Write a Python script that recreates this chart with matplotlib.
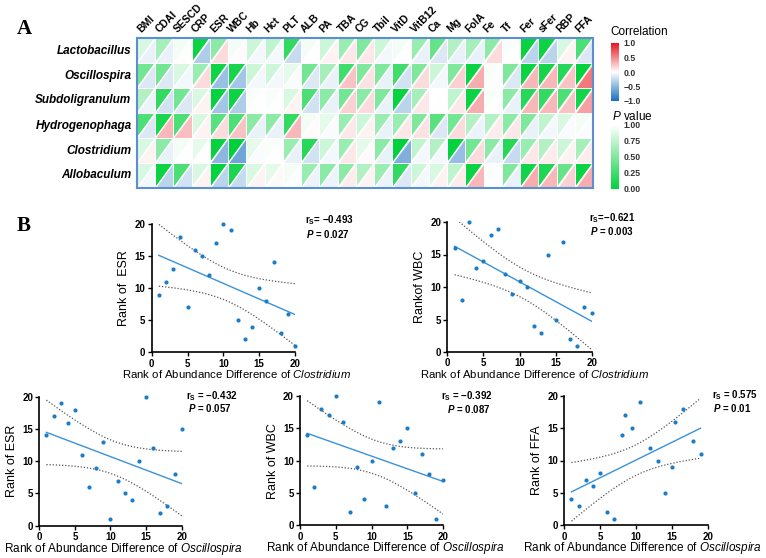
import numpy as np
import matplotlib
matplotlib.use("Agg")
import matplotlib.pyplot as plt
from matplotlib.collections import PolyCollection
from matplotlib.colors import LinearSegmentedColormap, Normalize
from matplotlib.cm import ScalarMappable

plt.rcParams['font.family'] = ['Liberation Sans', 'DejaVu Sans']
plt.rcParams['mathtext.fontset'] = 'custom'
plt.rcParams['mathtext.rm'] = 'Liberation Sans'
plt.rcParams['mathtext.it'] = 'Liberation Sans:italic'
plt.rcParams['mathtext.bf'] = 'Liberation Sans:bold'
plt.rcParams['mathtext.bfit'] = 'Liberation Sans:italic:bold'

# ---- panel A data ----
genera = ['Lactobacillus', 'Oscillospira', 'Subdoligranulum',
          'Hydrogenophaga', 'Clostridium', 'Allobaculum']
indices = ['BMI', 'CDAI', 'SESCD', 'CRP', 'ESR', 'WBC', 'Hb', 'Hct', 'PLT',
           'ALB', 'PA', 'TBA', 'CG', 'Tbil', 'VitD', 'VitB12', 'Ca', 'Mg',
           'FolA', 'Fe', 'Tf', 'Fer', 'sFer', 'RBP', 'FFA']

p_lacto = [0.85, 0.65, 0.95, 0.05, 0.55, 0.95, 0.8, 0.75, 0.2, 0.95, 0.8, 0.6, 0.5,
           0.8, 0.95, 0.6, 0.4, 0.7, 0.65, 0.55, 0.98, 0.03, 0.05, 0.85, 0.3]
p_oscil = [0.45, 0.45, 0.85, 0.6, 0.057, 0.087, 0.8, 0.8, 0.9, 0.45, 0.65, 0.25, 0.5,
           0.5, 0.25, 0.5, 0.8, 0.5, 0.05, 0.98, 0.5, 0.05, 0.08, 0.15, 0.01]
p_subdo = [0.7, 0.2, 0.45, 0.85, 0.02, 0.05, 0.98, 0.98, 0.85, 0.3, 0.55, 0.45, 0.55,
           0.5, 0.03, 0.65, 1.0, 0.75, 0.05, 0.97, 0.55, 0.15, 0.2, 0.3, 0.08]
p_hydro = [0.3, 0.1, 0.3, 0.85, 0.35, 0.3, 0.55, 0.55, 0.2, 0.95, 0.9, 0.6, 0.8,
           0.6, 0.6, 0.5, 0.35, 0.45, 0.7, 0.7, 0.55, 0.5, 0.75, 0.85, 0.95]
p_clost = [0.85, 0.55, 0.95, 0.9, 0.027, 0.003, 0.9, 0.98, 0.6, 0.15, 0.8, 0.6, 0.9,
           0.55, 0.01, 0.75, 0.7, 0.02, 0.45, 0.55, 0.15, 0.6, 0.7, 0.8, 0.65]
p_allob = [0.85, 0.05, 0.3, 0.85, 0.02, 0.1, 0.85, 0.9, 0.95, 0.6, 0.55, 0.55, 0.7,
           0.6, 0.2, 0.8, 0.85, 0.75, 0.05, 0.98, 0.5, 0.07, 0.12, 0.4, 0.05]

r_lacto = [-0.1, -0.1, 0, -0.35, 0.15, 0.02, -0.05, -0.05, -0.25, 0, 0.05, 0.1, 0.1,
           -0.05, 0, -0.1, -0.15, -0.1, -0.1, 0.15, 0, -0.3, -0.3, 0.05, -0.15]
r_oscil = [-0.15, -0.15, -0.05, 0.15, -0.432, -0.392, -0.05, -0.05, -0.03, -0.15, -0.1,
           0.25, 0.12, -0.1, -0.2, 0.15, -0.05, 0.2, 0.35, 0, -0.15, 0.3, 0.3, 0.25, 0.575]
r_subdo = [-0.08, -0.2, -0.15, 0.05, -0.4, -0.35, 0, 0, 0.05, -0.2, -0.1, 0.2, 0.15,
           -0.1, -0.3, 0.1, 0, 0.1, 0.35, 0, -0.1, 0.3, 0.3, 0.25, 0.4]
r_hydro = [-0.15, 0.3, 0.28, 0.05, 0.15, 0.25, -0.1, -0.1, 0.3, 0.02, -0.03, 0.1, 0.05,
           -0.1, 0.1, 0.12, -0.15, 0.15, -0.08, 0.08, 0.1, -0.1, -0.05, -0.03, -0.02]
r_clost = [0.05, -0.1, 0, 0, -0.493, -0.621, -0.03, 0, -0.1, -0.2, -0.05, 0.1, 0.02,
           -0.1, -0.55, -0.05, -0.05, -0.45, 0.15, -0.1, -0.25, 0.1, 0.08, 0.05, 0.08]
r_allob = [-0.05, -0.3, -0.2, 0.05, -0.3, -0.25, 0.05, 0.03, 0, -0.08, -0.08, 0.08, 0.05,
           -0.08, -0.15, -0.05, 0.05, 0.08, 0.3, 0, -0.1, 0.35, 0.3, 0.2, 0.35]

# ---- panel B data (ranks) ----
rank_x = [1, 2, 3, 4, 5, 6, 7, 8, 9, 10, 11, 12, 13, 14, 15, 16, 17, 18, 19, 20]
clost_esr = [9, 11, 13, 18, 7, 16, 15, 12, 17, 20, 19, 5, 2, 4, 10, 8, 14, 3, 6, 1]
clost_wbc = [16, 8, 20, 13, 14, 18, 19, 12, 9, 11, 10, 4, 3, 15, 5, 17, 2, 1, 7, 6]
oscil_esr = [14, 17, 19, 16, 18, 11, 6, 9, 13, 1, 7, 5, 4, 10, 20, 12, 2, 3, 8, 15]
oscil_wbc = [14, 6, 18, 17, 20, 16, 2, 9, 4, 10, 19, 3, 12, 13, 15, 5, 11, 8, 1, 7]
ffa_x = [1, 2, 3, 4, 5, 6, 7, 8, 8.5, 9.5, 10.5, 12, 13, 14, 15, 15.5, 16.5, 18, 19]
oscil_ffa = [4, 3, 7, 6, 8, 2, 1, 14, 17, 15, 19, 12, 10, 5, 9, 16, 18, 13, 11]

W, H = 766, 558
fig = plt.figure(figsize=(W / 100, H / 100), dpi=100)


def px_axes(x0, y0, x1, y1):
    return fig.add_axes([x0 / W, 1 - y1 / H, (x1 - x0) / W, (y1 - y0) / H])


def fig_text(x, y, s, **kw):
    fig.text(x / W, 1 - y / H, s, **kw)


green = LinearSegmentedColormap.from_list('pval', ['#00d13b', '#ffffff'])
redblue = LinearSegmentedColormap.from_list('corr', ['#1a6fc0', '#ffffff', '#e8141c'])
p_norm = Normalize(0, 1)
r_norm = Normalize(-1, 1)

# ---- heatmap ----
pvals = np.array([p_lacto, p_oscil, p_subdo, p_hydro, p_clost, p_allob])
rvals = np.array([r_lacto, r_oscil, r_subdo, r_hydro, r_clost, r_allob])
nr, nc = pvals.shape

ax = px_axes(137, 38, 593, 188)
upper, lower = [], []
for i in range(nr):
    for j in range(nc):
        upper.append([(j, i), (j + 1, i), (j, i + 1)])
        lower.append([(j + 1, i), (j + 1, i + 1), (j, i + 1)])
ax.add_collection(PolyCollection(upper, array=pvals.ravel(), cmap=green, norm=p_norm,
                                 edgecolors='white', linewidths=0.7))
ax.add_collection(PolyCollection(lower, array=rvals.ravel(), cmap=redblue, norm=r_norm,
                                 edgecolors='white', linewidths=0.7))
ax.set_xlim(0, nc)
ax.set_ylim(nr, 0)
ax.set_xticks([])
ax.set_yticks([])
for sp in ax.spines.values():
    sp.set_color('#5b8fd0')
    sp.set_linewidth(1.5)
for j, name in enumerate(indices):
    ax.text(j + 0.3, -0.15, name, rotation=45, rotation_mode='anchor',
            ha='left', va='bottom', fontsize=7.5, fontweight='bold')
for i, name in enumerate(genera):
    ax.text(-0.3, i + 0.5, name, ha='right', va='center', fontsize=8.5,
            fontweight='bold', fontstyle='italic')

# legends
fig_text(610, 32, 'Correlation', fontsize=8.5, va='center', ha='left')
cax = px_axes(611, 43, 619, 101)
cb = fig.colorbar(ScalarMappable(norm=r_norm, cmap=redblue), cax=cax,
                  ticks=[-1, -0.5, 0, 0.5, 1])
cb.ax.set_yticklabels(['\u22121.0', '\u22120.5', '0.0', '0.5', '1.0'])
cb.outline.set_visible(False)
cax.tick_params(length=0, pad=3, labelsize=6.3, labelcolor='#333333')
for t in cax.get_yticklabels():
    t.set_fontweight('bold')

fig_text(612, 116, '$\\mathit{P}$ value', fontsize=8.5, va='center', ha='left')
pax = px_axes(611, 125, 619, 189)
cb2 = fig.colorbar(ScalarMappable(norm=p_norm, cmap=green), cax=pax,
                   ticks=[0, 0.25, 0.5, 0.75, 1])
cb2.ax.set_yticklabels(['0.00', '0.25', '0.50', '0.75', '1.00'])
cb2.outline.set_visible(False)
pax.tick_params(length=0, pad=3, labelsize=6.3, labelcolor='#333333')
for t in pax.get_yticklabels():
    t.set_fontweight('bold')

fig_text(17, 34, 'A', fontsize=15, fontweight='bold', family='Liberation Serif', va='baseline')
fig_text(17, 231, 'B', fontsize=15, fontweight='bold', family='Liberation Serif', va='baseline')

# ---- scatter panels ----
t_crit = {17: 2.110, 18: 2.101}


def scatter_panel(box, x, y, ylab, taxon, rs_txt, p_txt, rs_xy, p_xy,
                  xlab_pos, xlab_size):
    ax = px_axes(*box)
    x = np.asarray(x, float)
    y = np.asarray(y, float)
    n = len(x)
    slope, icpt = np.polyfit(x, y, 1)
    xs = np.linspace(x.min(), x.max(), 100)
    yhat = icpt + slope * xs
    resid = y - (icpt + slope * x)
    s = np.sqrt(np.sum(resid ** 2) / (n - 2))
    sxx = np.sum((x - x.mean()) ** 2)
    ci = t_crit[n - 2] * s * np.sqrt(1 / n + (xs - x.mean()) ** 2 / sxx)
    ax.plot(xs, yhat, color='#3a92d8', lw=1)
    ax.plot(xs, yhat + ci, ls=(0, (1, 1.5)), color='#555555', lw=0.9)
    ax.plot(xs, yhat - ci, ls=(0, (1, 1.5)), color='#555555', lw=0.9)
    ax.scatter(x, y, s=9, color='#1b7dc7', clip_on=False, zorder=3, linewidths=0)
    ax.set_xlim(0, 20)
    ax.set_ylim(0, 20)
    ax.set_xticks([0, 5, 10, 15, 20])
    ax.set_yticks([0, 5, 10, 15, 20])
    ax.spines['top'].set_visible(False)
    ax.spines['right'].set_visible(False)
    for sp in ('left', 'bottom'):
        ax.spines[sp].set_linewidth(1.2)
    ax.tick_params(direction='out', length=3, width=1, labelsize=7, pad=1.5)
    for t in ax.get_xticklabels() + ax.get_yticklabels():
        t.set_fontweight('bold')
    ax.set_ylabel(ylab, fontsize=9, labelpad=3)
    ax.set_xlabel('Rank of Abundance Difference of $\\mathit{' + taxon + '}$',
                  fontsize=xlab_size)
    ax.xaxis.set_label_coords(*xlab_pos)
    fig_text(rs_xy[0], rs_xy[1], rs_txt, fontsize=7, fontweight='bold', va='center')
    fig_text(p_xy[0], p_xy[1], p_txt, fontsize=7, fontweight='bold', va='center')


scatter_panel((151.7, 224, 295, 352.3), rank_x, clost_esr, 'Rank of  ESR', 'Clostridium',
              '$\\mathbf{r}_{\\mathbf{S}}$= \u22120.493', '$\\mathbfit{P}$ = 0.027',
              (305, 220), (306, 234), (0.595, -0.12), 8.2)
scatter_panel((447.3, 222, 591.7, 352), rank_x, clost_wbc, 'Rankof WBC', 'Clostridium',
              '$\\mathbf{r}_{\\mathbf{S}}$=\u22120.621', '$\\mathbfit{P}$ = 0.003',
              (589, 218), (590, 231), (0.607, -0.12), 8.2)
scatter_panel((39.3, 396.7, 181.7, 525.7), rank_x, oscil_esr, 'Rank of ESR', 'Oscillospira',
              '$\\mathbf{r}_{\\mathbf{S}}$ = \u22120.432', '$\\mathbfit{P}$ = 0.057',
              (186, 396), (188, 408), (0.59, -0.115), 8.5)
scatter_panel((300, 396, 443.3, 525.3), rank_x, oscil_wbc, 'Rank of WBC', 'Oscillospira',
              '$\\mathbf{r}_{\\mathbf{S}}$ = \u22120.392', '$\\mathbfit{P}$ = 0.087',
              (441, 396), (447, 409), (0.593, -0.115), 8.5)
scatter_panel((564.3, 395.7, 707.7, 525.3), ffa_x, oscil_ffa, 'Rank of FFA', 'Oscillospira',
              '$\\mathbf{r}_{\\mathbf{S}}$ = 0.575', '$\\mathbfit{P}$ = 0.01',
              (712, 395), (713, 408), (0.545, -0.115), 8.5)

fig.savefig('out.png', dpi=100)
